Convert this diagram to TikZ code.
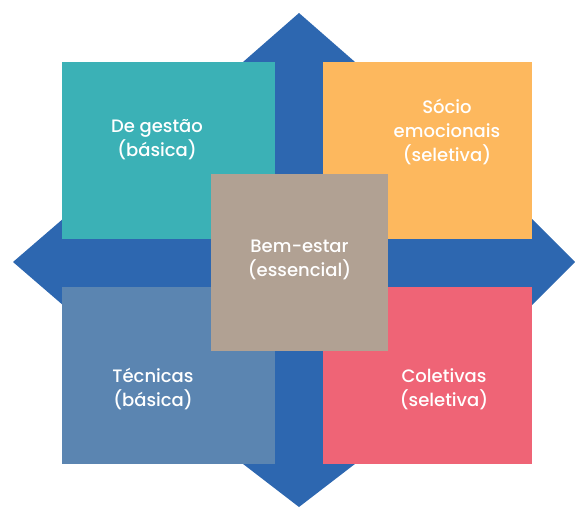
\documentclass[tikz,border=0pt]{standalone}
\usepackage{fontspec}
\setmainfont{Poppins Medium}
\definecolor{crossblue}{HTML}{2D67B0}
\definecolor{tealc}{HTML}{3BB1B6}
\definecolor{orangec}{HTML}{FDB85E}
\definecolor{steelc}{HTML}{5B85B1}
\definecolor{redc}{HTML}{EF6476}
\definecolor{taupec}{HTML}{B1A193}
\begin{document}
\begin{tikzpicture}[x=1pt,y=-1pt,
  cell/.style={draw=none,inner sep=0pt,anchor=north west},
  lbl/.style={text=white,align=center,inner sep=0pt,font=\fontsize{18}{24}\selectfont}]
\useasboundingbox (0,0) rectangle (575,508);
% cross arrow
\fill[crossblue] (275,62) rectangle (323,464);
\fill[crossblue] (62,239) rectangle (532,287);
\fill[crossblue] (299,13) -- (379,83) -- (219,83) -- cycle;
\fill[crossblue] (299,507) -- (390,437) -- (208,437) -- cycle;
\fill[crossblue] (13,262) -- (93,193) -- (93,331) -- cycle;
\fill[crossblue] (575,262) -- (495,182) -- (495,342) -- cycle;
% boxes
\node[cell,fill=tealc,minimum width=213pt,minimum height=177pt] (tl) at (62,62) {};
\node[cell,fill=orangec,minimum width=209pt,minimum height=177pt] (tr) at (323,62) {};
\node[cell,fill=steelc,minimum width=213pt,minimum height=177pt] (bl) at (62,287) {};
\node[cell,fill=redc,minimum width=209pt,minimum height=177pt] (br) at (323,287) {};
\node[cell,fill=taupec,minimum width=177pt,minimum height=177pt] (c) at (211,174) {};
% labels
\node[lbl] (ltl) at (157,140) {De gestão\\(básica)};
\node[lbl] (ltr) at (447,132) {Sócio\\emocionais\\(seletiva)};
\node[lbl] (lc) at (299.5,260) {Bem-estar\\(essencial)};
\node[lbl] (lbl) at (153,389) {Técnicas\\(básica)};
\node[lbl] (lbr) at (444,389) {Coletivas\\(seletiva)};
\end{tikzpicture}
\end{document}
